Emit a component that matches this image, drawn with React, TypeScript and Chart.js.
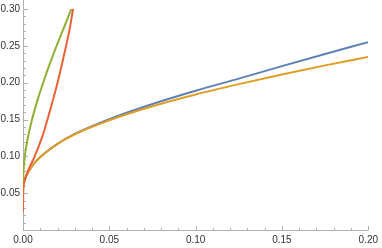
import React, { useEffect, useRef } from "react";
import { Chart, registerables } from "chart.js";

Chart.register(...registerables);

const xTickValues = [0, 0.05, 0.1, 0.15, 0.2];
const yTickValues = [0.05, 0.1, 0.15, 0.2, 0.25, 0.3];

const blueX = [0, 0.0005, 0.002, 0.005, 0.01, 0.02, 0.03, 0.05, 0.075, 0.1, 0.125, 0.15, 0.175, 0.2];
const blueY = [0.06, 0.064, 0.074, 0.086, 0.099, 0.117, 0.1305, 0.1505, 0.171, 0.189, 0.2055, 0.2225, 0.239, 0.255];

const orangeX = [0, 0.0005, 0.002, 0.005, 0.01, 0.02, 0.03, 0.05, 0.075, 0.1, 0.125, 0.15, 0.175, 0.2];
const orangeY = [0.06, 0.064, 0.074, 0.086, 0.099, 0.117, 0.13, 0.149, 0.168, 0.184, 0.198, 0.211, 0.2235, 0.235];

const greenX = [0, 0.0003, 0.0009, 0.002, 0.0047, 0.0085, 0.0124, 0.018, 0.024, 0.028];
const greenY = [0.062, 0.08, 0.097, 0.115, 0.145, 0.177, 0.205, 0.241, 0.2765, 0.3];

const redX = [0, 0.0001, 0.0003, 0.0008, 0.0015, 0.003, 0.0066, 0.0112, 0.0143, 0.0201, 0.024, 0.0268, 0.029];
const redY = [0.024, 0.045, 0.058, 0.066, 0.072, 0.081, 0.099, 0.127, 0.151, 0.201, 0.24, 0.27, 0.3];

const toPoints = (xs: number[], ys: number[]) => xs.map((x, i) => ({ x, y: ys[i] }));

const AXIS_COLOR = "#b0b0b0";

const tickPlugin = {
  id: "mmaTicks",
  beforeDatasetsDraw(chart: any) {
    const { ctx, chartArea } = chart;
    const xs = chart.scales.x;
    const ys = chart.scales.y;
    const x0 = Math.round(xs.getPixelForValue(0)) + 0.5;
    const y0 = Math.round(ys.getPixelForValue(0)) + 0.5;
    ctx.save();
    ctx.strokeStyle = AXIS_COLOR;
    ctx.lineWidth = 1;
    ctx.beginPath();
    ctx.moveTo(chartArea.left, y0);
    ctx.lineTo(chartArea.right, y0);
    ctx.moveTo(x0, 0);
    ctx.lineTo(x0, y0);
    ctx.stroke();
    ctx.beginPath();
    for (let i = 1; i <= 20; i++) {
      const px = Math.round(xs.getPixelForValue(i * 0.01)) + 0.5;
      const len = i % 5 === 0 ? 4.5 : 2.5;
      ctx.moveTo(px, y0);
      ctx.lineTo(px, y0 - len);
    }
    for (let i = 1; i <= 30; i++) {
      const py = Math.round(ys.getPixelForValue(i * 0.01)) + 0.5;
      const len = i % 5 === 0 ? 4.5 : 2.5;
      ctx.moveTo(x0, py);
      ctx.lineTo(x0 + len, py);
    }
    ctx.stroke();
    ctx.restore();
  },
};

export default function App() {
  const ref = useRef<HTMLCanvasElement>(null);
  useEffect(() => {
    if (!ref.current) return;
    const mk = (xs: number[], ys: number[], color: string, order: number) => ({
      data: toPoints(xs, ys),
      borderColor: color,
      backgroundColor: color,
      borderWidth: 2,
      pointRadius: 0,
      cubicInterpolationMode: "monotone" as const,
      fill: false,
      order,
    });
    const chart = new Chart(ref.current, {
      type: "line",
      data: {
        datasets: [
          mk(blueX, blueY, "#5E81B5", 4),
          mk(orangeX, orangeY, "#E19C24", 3),
          mk(greenX, greenY, "#8FB032", 2),
          mk(redX, redY, "#EB6235", 1),
        ],
      },
      options: {
        animation: false,
        responsive: false,
        maintainAspectRatio: false,
        layout: { padding: { top: 6, right: 10, left: 0, bottom: 0 } },
        plugins: { legend: { display: false }, tooltip: { enabled: false } },
        scales: {
          x: {
            type: "linear",
            min: 0,
            max: 0.2,
            grid: { display: false, drawTicks: false, tickLength: 0 },
            border: { display: false },
            afterBuildTicks: (s: any) => {
              s.ticks = xTickValues.map((v) => ({ value: v }));
            },
            afterFit: (s: any) => {
              s.height = 18;
            },
            ticks: {
              color: "#333",
              padding: 4,
              maxRotation: 0,
              autoSkip: false,
              font: { family: "Liberation Sans", size: 10 },
              callback: (v: any) => Number(v).toFixed(2),
            },
          },
          y: {
            type: "linear",
            min: 0,
            max: 0.3,
            grid: { display: false, drawTicks: false, tickLength: 0 },
            border: { display: false },
            afterBuildTicks: (s: any) => {
              s.ticks = yTickValues.map((v) => ({ value: v }));
            },
            afterFit: (s: any) => {
              s.width = 23;
            },
            ticks: {
              color: "#333",
              padding: 3,
              autoSkip: false,
              font: { family: "Liberation Sans", size: 10 },
              callback: (v: any) => Number(v).toFixed(2),
            },
          },
        },
      },
      plugins: [tickPlugin],
    });
    return () => chart.destroy();
  }, []);
  return (
    <div style={{ position: "absolute", left: 0, top: 0, width: 382, height: 248 }}>
      <canvas ref={ref} width={382} height={248} style={{ display: "block" }} />
    </div>
  );
}
